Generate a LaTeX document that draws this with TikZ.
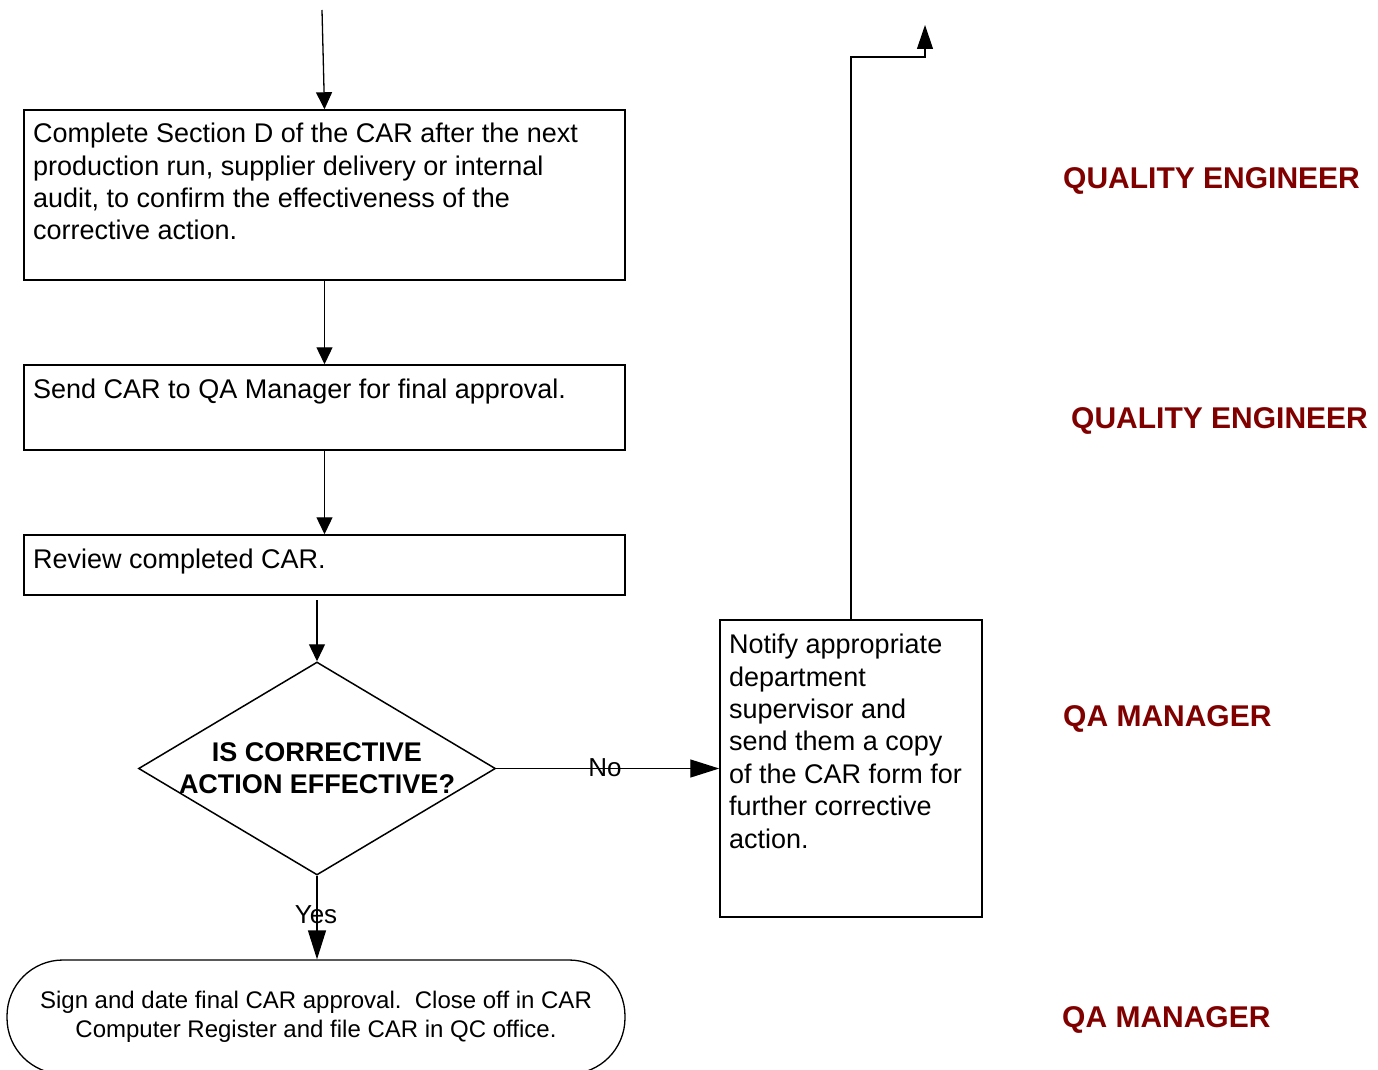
\documentclass[tikz,border=0pt]{standalone}
\usepackage{fontspec}
\setmainfont{Liberation Sans}
\usetikzlibrary{shapes.geometric,arrows.meta}
\definecolor{lanered}{HTML}{800000}
\tikzset{
  box/.style={draw=black, line width=1.5pt, inner sep=0pt},
  txt/.style={inner sep=0pt, align=left, font=\fontsize{27}{32.4}\selectfont},
  lane/.style={inner sep=0pt, text=lanered, font=\fontsize{30}{34}\selectfont\bfseries},
  conn/.style={draw=black, line width=1.3pt, -{Triangle[length=17pt,width=16pt]}},
  bigconn/.style={draw=black, line width=1.3pt, -{Triangle[length=29pt,width=18pt]}},
  lbl/.style={inner sep=0pt, font=\fontsize{26}{28}\selectfont}
}
\begin{document}
\begin{tikzpicture}[x=1pt,y=-1pt]
\useasboundingbox (0,0) rectangle (1378,1070);
% boxes
\node[box, minimum width=601pt, minimum height=170pt] (b1) at (324.5,195) {};
\node[txt, anchor=north west] (t1) at (33,123) {Complete Section D of the CAR after the next\\production run, supplier delivery or internal\\audit, to confirm the effectiveness of the\\corrective action.};
\node[box, minimum width=601pt, minimum height=85pt] (b2) at (324.5,407.5) {};
\node[txt, anchor=north west] (t2) at (33,379) {Send CAR to QA Manager for final approval.};
\node[box, minimum width=601pt, minimum height=60pt] (b3) at (324.5,565) {};
\node[txt, anchor=north west] (t3) at (33,549) {Review completed CAR.};
% diamond
\node[draw=black, line width=1.5pt, diamond, inner sep=0pt, minimum width=357pt, minimum height=213pt] (d) at (317,768.5) {};
\node[inner sep=0pt, align=center, font=\fontsize{27}{31.5}\selectfont\bfseries] (dt) at (317,768) {IS CORRECTIVE\\ACTION EFFECTIVE?};
% notify box
\node[box, minimum width=262pt, minimum height=297pt] (n) at (851,768.5) {};
\node[txt, anchor=north west] (nt) at (729,634) {Notify appropriate\\department\\supervisor and\\send them a copy\\of the CAR form for\\further corrective\\action.};
% terminator
\node[draw=black, line width=1.3pt, rounded corners=56pt, minimum width=618pt, minimum height=114pt, inner sep=0pt] (term) at (316,1017) {};
\node[inner sep=0pt, align=center, font=\fontsize{24}{29}\selectfont] (termt) at (316,1016.5) {Sign and date final CAR approval.\ \ Close off in CAR\\Computer Register and file CAR in QC office.};
% lane labels
\node[lane, anchor=west] (l1) at (1063,181) {QUALITY ENGINEER};
\node[lane, anchor=west] (l2) at (1071,421) {QUALITY ENGINEER};
\node[lane, anchor=west] (l3) at (1063,719) {QA MANAGER};
\node[lane, anchor=west] (l4) at (1062,1020) {QA MANAGER};
% connectors
\coordinate (top) at (322,10);
\draw[conn] (top) -- (b1.north);
\draw[conn] (b1.south) -- (b2.north);
\draw[conn] (b2.south) -- (b3.north);
\coordinate (s3) at (317,600);
\draw[conn] (s3) -- (d.north);
\draw[bigconn] (d.east) -- (n.west);
\node[lbl] (no) at (605,768) {No};
\draw[bigconn] (d.south) -- (term.north -| d.south);
\node[lbl] (yes) at (316,915) {Yes};
\coordinate (n1) at (851,620);
\coordinate (up) at (925,25);
\draw[draw=black, line width=1.1pt, -{Triangle[length=24pt,width=16pt]}] (n1) -- (851,57) -- (925,57) -- (up);
\end{tikzpicture}
\end{document}
